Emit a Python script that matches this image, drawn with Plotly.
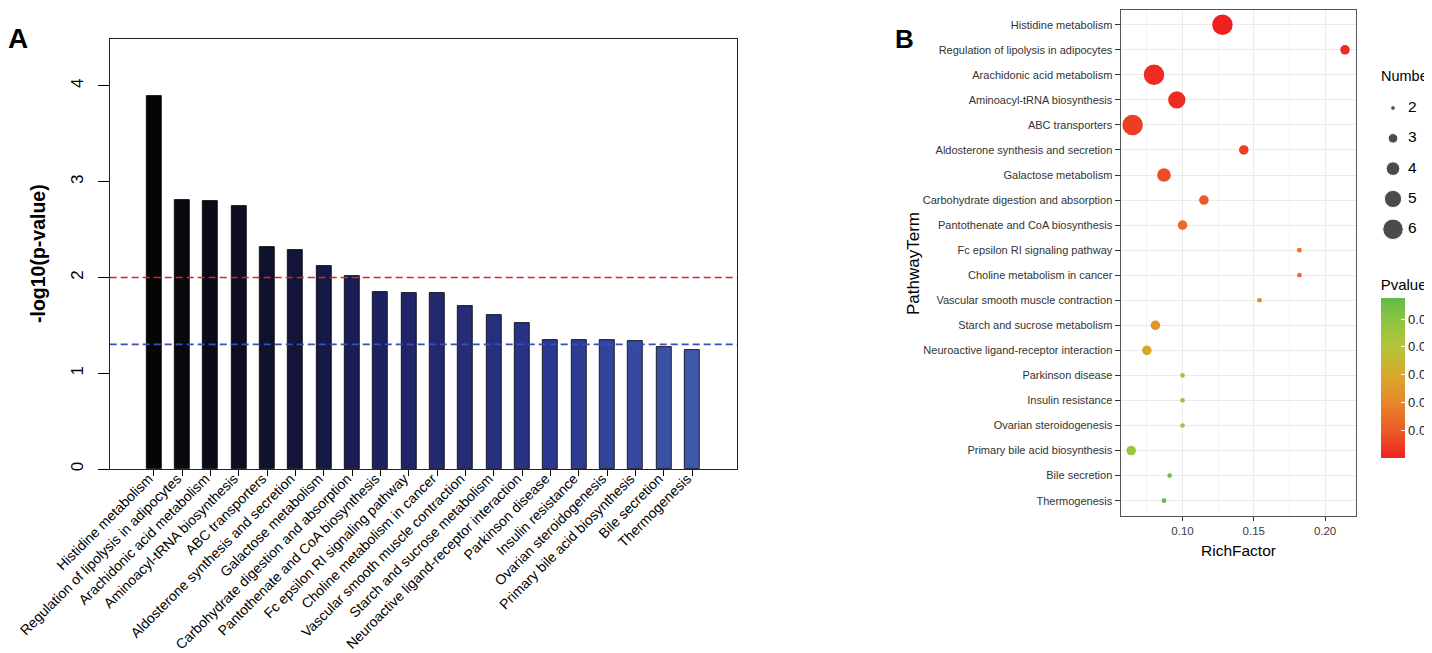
import plotly.graph_objects as go

W, H = 1432, 653

# KEGG pathways, ordered by significance
pathways = [
    "Histidine metabolism", "Regulation of lipolysis in adipocytes",
    "Arachidonic acid metabolism", "Aminoacyl-tRNA biosynthesis",
    "ABC transporters", "Aldosterone synthesis and secretion",
    "Galactose metabolism", "Carbohydrate digestion and absorption",
    "Pantothenate and CoA biosynthesis", "Fc epsilon RI signaling pathway",
    "Choline metabolism in cancer", "Vascular smooth muscle contraction",
    "Starch and sucrose metabolism", "Neuroactive ligand-receptor interaction",
    "Parkinson disease", "Insulin resistance", "Ovarian steroidogenesis",
    "Primary bile acid biosynthesis", "Bile secretion", "Thermogenesis",
]
neg_log_p = [3.90, 2.81, 2.80, 2.75, 2.32, 2.29, 2.12, 2.02, 1.85, 1.84,
             1.84, 1.70, 1.61, 1.52, 1.35, 1.35, 1.35, 1.34, 1.27, 1.24]
rich_factor = [0.128, 0.214, 0.080, 0.096, 0.065, 0.143, 0.087, 0.115, 0.100, 0.182,
               0.182, 0.154, 0.081, 0.075, 0.100, 0.100, 0.100, 0.064, 0.091, 0.087]
gene_number = [6, 3, 6, 5, 6, 3, 4, 3, 3, 2, 2, 2, 3, 3, 2, 2, 2, 3, 2, 2]
legend_numbers = [2, 3, 4, 5, 6]
pvalue_ticks = [0.01, 0.02, 0.03, 0.04, 0.05]
red_cut = 2.0
blue_cut = 1.301

p_values = [10 ** -v for v in neg_log_p]

FONT = "Liberation Sans, Arial, Helvetica, sans-serif"


def px_x(v):
    return v / W


def px_y(v):
    return 1 - v / H


def dot_size(n):
    # area-style size scale like ggplot's scale_size
    lo, hi = 4.7, 20.5
    return lo + (hi - lo) * (n ** 0.5 - 2 ** 0.5) / (6 ** 0.5 - 2 ** 0.5)


dot_scale = [[0.0, "#EE2222"], [0.17, "#EC5A28"], [0.34, "#E8852A"],
             [0.51, "#D6A82C"], [0.69, "#B8C438"], [0.86, "#8CC443"],
             [1.0, "#63BB47"]]
bar_scale = [[0.0, "#050505"], [0.25, "#111433"], [0.4, "#1B1F5E"],
             [0.55, "#252A72"], [0.75, "#2B3890"], [1.0, "#3D57AA"]]

fig = go.Figure()

# panel A: bar chart
fig.add_trace(go.Bar(
    x=list(range(len(pathways))), y=neg_log_p, width=0.53,
    marker=dict(color=list(range(len(pathways))), colorscale=bar_scale,
                line=dict(color="#000000", width=0.8)),
    xaxis="x", yaxis="y", showlegend=False))

# panel B: bubble chart
fig.add_trace(go.Scatter(
    x=rich_factor, y=pathways, mode="markers",
    marker=dict(size=[dot_size(n) for n in gene_number], color=p_values,
                colorscale=dot_scale, cmin=min(p_values), cmax=max(p_values),
                line=dict(width=0), opacity=1,
                colorbar=dict(
                    title=dict(text="Pvalue", side="top",
                               font=dict(family=FONT, size=15, color="#000")),
                    tickvals=pvalue_ticks, ticktext=[f"{t:.2f}" for t in pvalue_ticks],
                    ticks="inside", tickcolor="white", ticklen=4,
                    tickfont=dict(family=FONT, size=13, color="#222"),
                    outlinewidth=0, thickness=24, thicknessmode="pixels",
                    x=px_x(1372.7), xanchor="left", xpad=0,
                    y=px_y(268), yanchor="top", ypad=0,
                    len=(450 - 268) / H, lenmode="fraction")),
    xaxis="x2", yaxis="y2", showlegend=False))

# size legend for "Number"
fig.add_trace(go.Scatter(
    x=[1] * len(legend_numbers), y=legend_numbers, mode="markers",
    marker=dict(size=[dot_size(n) for n in legend_numbers], color="#000"),
    xaxis="x3", yaxis="y3", showlegend=False, hoverinfo="skip"))
fig.add_trace(go.Scatter(
    x=[2.0] * len(legend_numbers), y=legend_numbers, mode="text",
    text=[str(n) for n in legend_numbers], textposition="middle right",
    textfont=dict(family=FONT, size=15.5, color="#000"),
    xaxis="x3", yaxis="y3", showlegend=False, hoverinfo="skip"))

shapes = []
for val, col in [(red_cut, "#E0231F"), (blue_cut, "#3A4DBA")]:
    shapes.append(dict(type="line", xref="x domain", yref="y", x0=0, x1=1,
                       y0=val, y1=val, line=dict(color=col, width=1.6, dash="7px,4px")))

annotations = [
    dict(text="<b>A</b>", x=px_x(10), y=px_y(30), font=dict(family=FONT, size=28, color="#000")),
    dict(text="<b>B</b>", x=px_x(896), y=px_y(31), font=dict(family=FONT, size=26, color="#000")),
    dict(text="<b>-log10(p-value)</b>", x=px_x(30), y=px_y(246), textangle=-90,
         font=dict(family=FONT, size=19.5, color="#000")),
    dict(text="PathwayTerm", x=px_x(905), y=px_y(255), textangle=-90,
         font=dict(family=FONT, size=17, color="#000")),
    dict(text="RichFactor", x=px_x(1230), y=px_y(542),
         font=dict(family=FONT, size=15.5, color="#000")),
    dict(text="Number", x=px_x(1371), y=px_y(68), xanchor="left",
         font=dict(family=FONT, size=14.5, color="#000")),
]
for a in annotations:
    a.update(xref="paper", yref="paper", showarrow=False)
    a.setdefault("xanchor", "center")
    a["yanchor"] = "middle"

fig.update_layout(
    width=W, height=H, margin=dict(l=0, r=0, t=0, b=0, autoexpand=False),
    paper_bgcolor="white", plot_bgcolor="white",
    shapes=shapes, annotations=annotations, bargap=0,
    xaxis=dict(domain=[px_x(101.7), px_x(729.3)], range=[-1.56, 20.59],
               tickvals=list(range(len(pathways))), ticktext=pathways,
               tickangle=-45, ticks="outside", ticklen=6, tickcolor="#000",
               tickfont=dict(family=FONT, size=14, color="#000"),
               ticklabelstandoff=-11, ticklabelshift=-5,
               showline=True, mirror=True, linecolor="#222", linewidth=1,
               showgrid=False, zeroline=False, automargin=False),
    yaxis=dict(domain=[px_y(461), px_y(31)], range=[0, 4.49],
               tickvals=[0, 1, 2, 3, 4], tickangle=-90,
               ticks="outside", ticklen=11, tickcolor="#000",
               tickfont=dict(family=FONT, size=17, color="#000"),
               ticklabelstandoff=8,
               showline=True, mirror=True, linecolor="#222", linewidth=1,
               showgrid=False, zeroline=False, automargin=False),
    xaxis2=dict(domain=[px_x(1112.5), px_x(1348)], range=[0.0565, 0.2217],
                tickvals=[0.10, 0.15, 0.20], ticktext=["0.10", "0.15", "0.20"],
                ticks="outside", ticklen=4, tickcolor="#333",
                tickfont=dict(family=FONT, size=11.5, color="#3A3A3A"),
                showgrid=True, gridcolor="#EBEBEB", gridwidth=1,
                minor=dict(tickvals=[0.075, 0.125, 0.175, 0.225], showgrid=True,
                           gridcolor="#F4F4F4", gridwidth=0.6),
                showline=True, mirror=True, linecolor="#555", linewidth=1,
                zeroline=False, anchor="y2", automargin=False),
    yaxis2=dict(domain=[px_y(507.7), px_y(1.7)], type="category",
                categoryorder="array", categoryarray=pathways, range=[19.6, -0.6],
                ticks="outside", ticklen=5, tickcolor="#333",
                tickfont=dict(family=FONT, size=11, color="#333"),
                showgrid=True, gridcolor="#EBEBEB", gridwidth=1,
                showline=True, mirror=True, linecolor="#555", linewidth=1,
                zeroline=False, anchor="x2", automargin=False),
    xaxis3=dict(domain=[px_x(1370), px_x(1430)], range=[0, 4], visible=False,
                anchor="y3", automargin=False),
    yaxis3=dict(domain=[px_y(236.45), px_y(84.85)], range=[6.5, 1.5], visible=False,
                anchor="x3", automargin=False),
)

fig.write_html("out.html")
